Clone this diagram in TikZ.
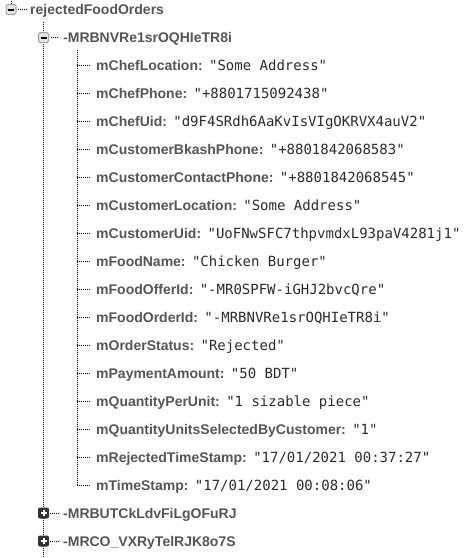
\documentclass[tikz,border=0pt]{standalone}
\usepackage{fontspec}
\setmainfont{Liberation Sans}
\newfontfamily\monofont{DejaVu Sans Mono}
\definecolor{keygray}{HTML}{555555}
\definecolor{valgray}{HTML}{2B2B2B}
\definecolor{boxfill}{HTML}{E4E4E4}
\definecolor{boxline}{HTML}{9E9E9E}
\definecolor{plusfill}{HTML}{333333}
\newcommand\kvrow[4]{%
  \coordinate (b#1) at (77,#2);
  \node[lbl] (t#1) at (96,#2) {#3:~\kern2.5pt{\monofont\mdseries\color{valgray}#4}};
  \draw[tree] (b#1) -- ([xshift=-5pt]t#1.west);
}
\begin{document}
\begin{tikzpicture}[x=1pt,y=-1pt,
  tree/.style={line width=1pt, dash pattern=on 1pt off 1pt, black},
  lbl/.style={anchor=west, inner sep=0pt, text height=10pt, text depth=0pt,
    font=\fontsize{14}{16}\selectfont\bfseries, text=keygray},
  minusbox/.style={draw=boxline, fill=boxfill, rounded corners=1.5pt,
    minimum size=10pt, inner sep=0pt, line width=1pt,
    path picture={\draw[black,line width=2pt]
      ([xshift=-3pt]path picture bounding box.center) --
      ([xshift=3pt]path picture bounding box.center);}},
  plusbox/.style={fill=plusfill, rounded corners=2pt,
    minimum size=11pt, inner sep=0pt,
    path picture={\draw[white,line width=2pt]
      ([xshift=-3pt]path picture bounding box.center) --
      ([xshift=3pt]path picture bounding box.center)
      ([yshift=-3pt]path picture bounding box.center) --
      ([yshift=3pt]path picture bounding box.center);}}
]
\useasboundingbox (0,0) rectangle (474,558);

% vertical tree lines
\coordinate (top0) at (11,0);
\coordinate (v1top) at (43.5,22);
\coordinate (v1bot) at (43.5,558);
\coordinate (v2top) at (77,50);
\coordinate (v2bot) at (77,485);
\draw[tree] (v1top) -- (v1bot);
\draw[tree] (v2top) -- (v2bot);

% root
\node[minusbox] (box0) at (11,9.5) {};
\draw[tree] (box0.north) -- (top0);
\node[lbl] (root) at (30,9.5) {rejectedFoodOrders};
\draw[tree] ([xshift=1pt]box0.east) -- ([xshift=-4pt]root.west);

% first record
\node[minusbox] (box1) at (43.5,37.5) {};
\node[lbl] (rec1) at (63,37.5) {-MRBNVRe1srOQHIeTR8i};
\draw[tree] ([xshift=2pt]box1.east) -- ([xshift=-4pt]rec1.west);

\kvrow{1}{65}{mChefLocation}{"Some Address"}
\kvrow{2}{93}{mChefPhone}{"+8801715092438"}
\kvrow{3}{121}{mChefUid}{"d9F4SRdh6AaKvIsVIgOKRVX4auV2"}
\kvrow{4}{149}{mCustomerBkashPhone}{"+8801842068583"}
\kvrow{5}{177}{mCustomerContactPhone}{"+8801842068545"}
\kvrow{6}{205}{mCustomerLocation}{"Some Address"}
\kvrow{7}{233}{mCustomerUid}{"UoFNwSFC7thpvmdxL93paV4281j1"}
\kvrow{8}{261}{mFoodName}{"Chicken Burger"}
\kvrow{9}{289}{mFoodOfferId}{"-MR0SPFW-iGHJ2bvcQre"}
\kvrow{10}{317}{mFoodOrderId}{"-MRBNVRe1srOQHIeTR8i"}
\kvrow{11}{345}{mOrderStatus}{"Rejected"}
\kvrow{12}{373}{mPaymentAmount}{"50 BDT"}
\kvrow{13}{401}{mQuantityPerUnit}{"1 sizable piece"}
\kvrow{14}{429}{mQuantityUnitsSelectedByCustomer}{"1"}
\kvrow{15}{457}{mRejectedTimeStamp}{"17/01/2021 00:37:27"}
\kvrow{16}{485}{mTimeStamp}{"17/01/2021 00:08:06"}

% collapsed records
\node[plusbox] (box2) at (43.5,513) {};
\node[lbl] (rec2) at (63,513) {-MRBUTCkLdvFiLgOFuRJ};
\draw[tree] ([xshift=1pt]box2.east) -- ([xshift=-4pt]rec2.west);
\node[plusbox] (box3) at (43.5,541) {};
\node[lbl] (rec3) at (63,541) {-MRCO\_VXRyTelRJK8o7S};
\draw[tree] ([xshift=1pt]box3.east) -- ([xshift=-4pt]rec3.west);
\end{tikzpicture}
\end{document}
